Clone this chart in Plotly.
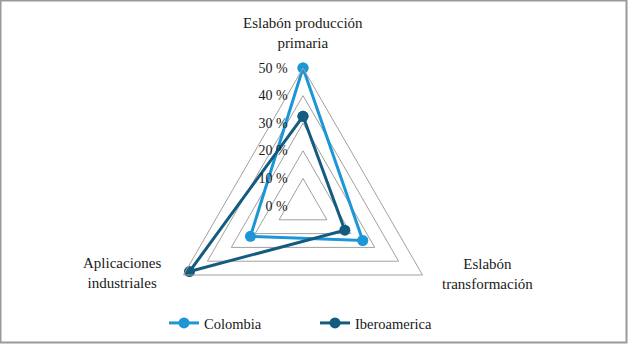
import plotly.graph_objects as go

categories = ["Eslabón producción<br>primaria", "Eslabón<br>transformación", "Aplicaciones<br>industriales"]
colombia = [50, 25, 22]
iberoamerica = [32.5, 17.5, 47.5]
tick_values = [0, 10, 20, 30, 40, 50]
tick_labels = ["0 %", "10 %", "20 %", "30 %", "40 %", "50 %"]
series_names = ["Colombia", "Iberoamerica"]

C_COL = "#1C96D6"
C_IBE = "#135C80"
FONT = "Liberation Serif"
TXT = "#1a1a1a"
GRID = "#A0A0A0"

fig = go.Figure()
for name, vals, col in [(series_names[0], colombia, C_COL), (series_names[1], iberoamerica, C_IBE)]:
    fig.add_trace(go.Scatterpolar(
        r=vals + vals[:1], theta=categories + categories[:1], name=name,
        mode="lines+markers", line=dict(color=col, width=3),
        marker=dict(color=col, size=11), cliponaxis=False,
    ))

R = 138
cx = 303
W, H = 628, 344

# category label placement (paper coords)
label_pos = [(303, 33), (487, 274), (122, 273)]
annotations = []
for cat, (x, y) in zip(categories, label_pos):
    annotations.append(dict(text=cat, xref="paper", yref="paper", x=x / W, y=1 - y / H,
                            xanchor="center", yanchor="middle", showarrow=False, align="center",
                            font=dict(family=FONT, size=15, color=TXT)))

fig.update_layout(
    width=W, height=H, margin=dict(l=0, r=0, t=0, b=0),
    paper_bgcolor="white", plot_bgcolor="white",
    font=dict(family=FONT, size=14, color=TXT),
    polar=dict(
        domain=dict(x=[(cx - R) / W, (cx + R) / W], y=[0, 2 * R / H]),
        gridshape="linear", bgcolor="white",
        radialaxis=dict(range=[0, 50], tickmode="array", tickvals=tick_values, ticktext=tick_labels,
                        angle=90, tickangle=90, showline=False, ticks="outside",
                        ticklen=10, tickcolor="rgba(0,0,0,0)",
                        gridcolor=GRID, gridwidth=1, side="counterclockwise",
                        tickfont=dict(family=FONT, size=14, color=TXT)),
        angularaxis=dict(rotation=90, direction="clockwise", showgrid=False,
                         showline=True, linecolor=GRID, linewidth=1,
                         ticks="", showticklabels=False),
    ),
    showlegend=True,
    legend=dict(orientation="h", x=164 / W, xanchor="left", y=1 - 323 / H, yanchor="middle",
                entrywidth=106, entrywidthmode="pixels",
                font=dict(family=FONT, size=14.5, color=TXT)),
    annotations=annotations,
    shapes=[dict(type="rect", xref="paper", yref="paper",
                 x0=0.5 / W, x1=626.5 / W, y0=1 - 342.5 / H, y1=1 - 0.5 / H,
                 line=dict(color="#9A9A9A", width=2))],
)
fig.write_html("out.html", config={"displayModeBar": False},
               post_script="document.body.style.margin='0';")
